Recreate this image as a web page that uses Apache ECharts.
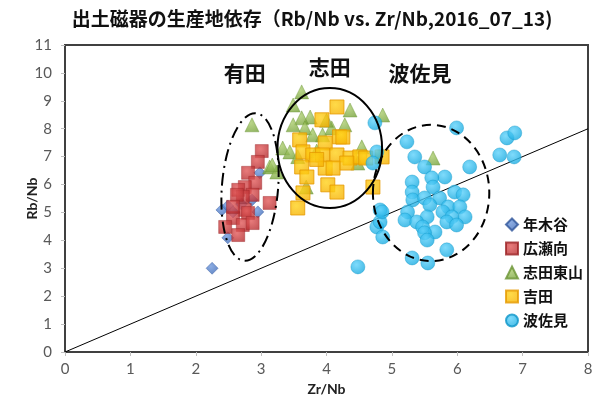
<!DOCTYPE html>
<html>
<head>
<meta charset="utf-8">
<script src="https://cdn.jsdelivr.net/npm/echarts@6/dist/echarts.min.js"></script>
<style>
html,body{margin:0;padding:0;background:#fff;}
#chart{width:599px;height:401px;}
</style>
</head>
<body>
<div id="chart"></div>
<script>
// Zr/Nb (x), Rb/Nb (y) for each kiln site
const toshikidani = [
  [2.25,3.00],[2.49,4.09],[2.40,5.09],[2.49,5.23],[2.57,5.02],[2.95,5.02],
  [2.98,6.42],[2.86,5.45],[2.70,5.30]
];
const hirosemukai = [
  [3.01,7.20],[2.95,6.81],[2.80,6.42],[2.91,6.06],[2.75,5.91],[2.65,5.81],
  [2.87,5.63],[2.72,5.56],[2.63,5.63],[3.13,5.34],[2.75,5.09],[2.80,4.98],
  [2.57,4.80],[2.72,4.55],[2.87,4.62],[2.65,4.19],[2.57,5.20],[2.45,4.48]
];
const shidaHigashiyama = [
  [2.86,8.14],[3.62,9.32],[3.49,8.85],[3.75,8.42],[3.62,8.39],[3.49,8.14],
  [3.67,8.03],[4.08,8.03],[4.28,8.14],[4.36,8.67],[3.79,7.78],[3.94,7.78],
  [3.33,7.31],[3.44,7.17],[3.13,6.63],[3.24,6.45],[3.17,6.70],[4.86,8.49],
  [4.54,7.35],[4.48,6.77],[5.63,6.95],[3.69,5.91],[3.56,7.00],[3.85,7.20],
  [4.00,8.30]
];
const yoshida = [
  [4.16,8.78],[3.93,8.32],[4.20,7.71],[4.25,7.70],[3.59,7.60],[3.98,7.49],
  [3.64,7.17],[3.79,7.06],[3.94,7.06],[4.16,7.06],[4.36,6.95],[4.51,6.99],
  [4.85,6.99],[4.31,6.77],[3.62,6.63],[3.98,6.59],[4.10,6.59],[3.70,6.27],
  [4.02,5.99],[4.71,5.91],[4.16,5.73],[3.64,5.70],[3.56,5.16],[3.85,6.90],
  [4.60,6.95]
];
const hasami = [
  [4.74,8.21],[5.99,8.03],[6.76,7.67],[6.88,7.85],[5.23,7.53],[4.77,7.17],
  [6.65,7.06],[6.87,6.99],[5.35,6.99],[4.71,6.77],[5.50,6.63],[6.19,6.63],
  [5.81,6.27],[5.61,6.24],[5.31,6.09],[5.63,5.91],[5.31,5.73],[5.96,5.73],
  [6.09,5.63],[5.32,5.45],[5.50,5.52],[5.73,5.52],[5.58,5.27],[5.86,5.20],
  [6.04,5.20],[4.82,5.09],[5.24,5.02],[5.78,5.02],[5.54,4.84],[5.92,4.84],
  [6.12,4.84],[5.20,4.73],[5.38,4.66],[5.84,4.66],[5.99,4.55],[5.47,4.48],
  [4.77,4.48],[5.66,4.30],[5.50,4.27],[4.86,4.12],[5.54,4.01],[5.84,3.66],
  [5.31,3.37],[5.55,3.19],[4.48,3.05],[4.82,4.66],[4.85,5.02]
];
// reference line Rb/Nb = Zr/Nb
const refLine = [[0,0],[8,8]];

const seriesNames = ['年木谷','広瀬向','志田東山','吉田','波佐見'];
const xTicks = [0,1,2,3,4,5,6,7,8];
const yTicks = [0,1,2,3,4,5,6,7,8,9,10,11];

// group outlines: centre and radii in data units
const groupRings = [
  {c:[2.83,5.91], r:[0.43,2.65], dash:[12,5,2,5], rot:-0.08},
  {c:[4.05,7.31], r:[0.80,2.15], dash:null, rot:0},
  {c:[5.60,5.70], r:[0.89,2.44], dash:[9,6], rot:0}
];
const groupLabels = [
  {t:'有田', p:[2.75,10.0]},
  {t:'志田', p:[4.05,10.2]},
  {t:'波佐見', p:[5.43,10.0]}
];

const numFont = 'Lato, "Liberation Sans", sans-serif';
const cjkFont = '"Noto Sans CJK JP", "Noto Sans", sans-serif';

function grad(c1, c2) {
  return new echarts.graphic.RadialGradient(0.4, 0.35, 0.75, [
    {offset:0, color:c1}, {offset:1, color:c2}
  ]);
}

const chart = echarts.init(document.getElementById('chart'), null, {renderer:'canvas'});

const option = {
  backgroundColor:'#ffffff',
  animation:false,
  title:{
    text:'出土磁器の生産地依存（Rb/Nb vs. Zr/Nb,2016_07_13)',
    left:307, top:4, textAlign:'center',
    textStyle:{fontFamily:cjkFont, fontSize:19, fontWeight:'bold', color:'#111'}
  },
  grid:{left:65, right:11, top:45, bottom:49, show:true, borderColor:'#404040', borderWidth:2, backgroundColor:'transparent'},
  xAxis:{
    type:'value', min:xTicks[0], max:xTicks[xTicks.length-1], interval:1,
    name:'Zr/Nb', nameLocation:'middle', nameGap:30, nameMoveOverlap:false,
    nameTextStyle:{fontFamily:numFont, fontSize:14, fontWeight:'bold', color:'#222'},
    axisLine:{show:true, lineStyle:{color:'#404040', width:2}},
    axisTick:{show:true, length:4, lineStyle:{color:'#bfbfbf'}},
    axisLabel:{fontFamily:numFont, fontSize:15, color:'#595959', margin:10},
    splitLine:{show:false}
  },
  yAxis:{
    type:'value', min:yTicks[0], max:yTicks[yTicks.length-1], interval:1,
    name:'Rb/Nb', nameLocation:'middle', nameGap:26, nameRotate:90, nameMoveOverlap:false,
    nameTextStyle:{fontFamily:numFont, fontSize:14, fontWeight:'bold', color:'#222'},
    axisLine:{show:true, lineStyle:{color:'#404040', width:2}},
    axisTick:{show:true, length:4, lineStyle:{color:'#bfbfbf'}},
    axisLabel:{fontFamily:numFont, fontSize:15, color:'#595959', margin:13},
    splitLine:{show:false}
  },
  legend:{
    data:seriesNames,
    orient:'vertical', left:500, top:212, itemGap:9,
    itemWidth:12, itemHeight:12,
    textStyle:{fontFamily:cjkFont, fontSize:15, fontWeight:'bold', color:'#111'}
  },
  series:[
    {
      name:'refLine', type:'line', data:refLine, symbol:'none', silent:true,
      lineStyle:{color:'#000', width:1}, z:1
    },
    {
      name:seriesNames[0], type:'scatter', data:toshikidani, symbol:'diamond', symbolSize:12,
      itemStyle:{color:grad('#6f98dc','#3a66b4'), borderColor:'#2f559a', borderWidth:0.5}, z:3
    },
    {
      name:seriesNames[1], type:'scatter', data:hirosemukai, symbol:'rect', symbolSize:13,
      itemStyle:{color:grad('#e25a5a','#b52b2e'), borderColor:'#9c2326', borderWidth:0.5}, z:4
    },
    {
      name:seriesNames[2], type:'scatter', data:shidaHigashiyama, symbol:'triangle', symbolSize:14,
      itemStyle:{color:grad('#a9cb6c','#76a23a'), borderColor:'#6a9333', borderWidth:0.5}, z:3
    },
    {
      name:seriesNames[3], type:'scatter', data:yoshida, symbol:'rect', symbolSize:14,
      itemStyle:{color:grad('#ffd21a','#f6b000'), borderColor:'#e59a00', borderWidth:1}, z:4
    },
    {
      name:seriesNames[4], type:'scatter', data:hasami, symbol:'circle', symbolSize:14,
      itemStyle:{color:grad('#5fd2fb','#10a6dd'), borderColor:'#0d95c8', borderWidth:0.5}, z:4
    }
  ]
};
chart.setOption(option);

// outlines and group names are placed in data space through the grid's scales
function drawAnnotations() {
  const els = [];
  groupRings.forEach(function (g) {
    const c = chart.convertToPixel({gridIndex:0}, g.c);
    const e = chart.convertToPixel({gridIndex:0}, [g.c[0] + g.r[0], g.c[1] + g.r[1]]);
    els.push({
      type:'ellipse', z:10, silent:true,
      x:c[0], y:c[1], rotation:g.rot,
      shape:{cx:0, cy:0, rx:Math.abs(e[0]-c[0]), ry:Math.abs(e[1]-c[1])},
      style:{fill:null, stroke:'#000', lineWidth:2, lineDash:g.dash}
    });
  });
  groupLabels.forEach(function (l) {
    const p = chart.convertToPixel({gridIndex:0}, l.p);
    els.push({
      type:'text', z:10, silent:true, x:p[0], y:p[1],
      style:{text:l.t, align:'center', verticalAlign:'middle',
        font:'bold 21px ' + cjkFont, fill:'#111'}
    });
  });
  chart.setOption({graphic:els});
}
drawAnnotations();
</script>
</body>
</html>
